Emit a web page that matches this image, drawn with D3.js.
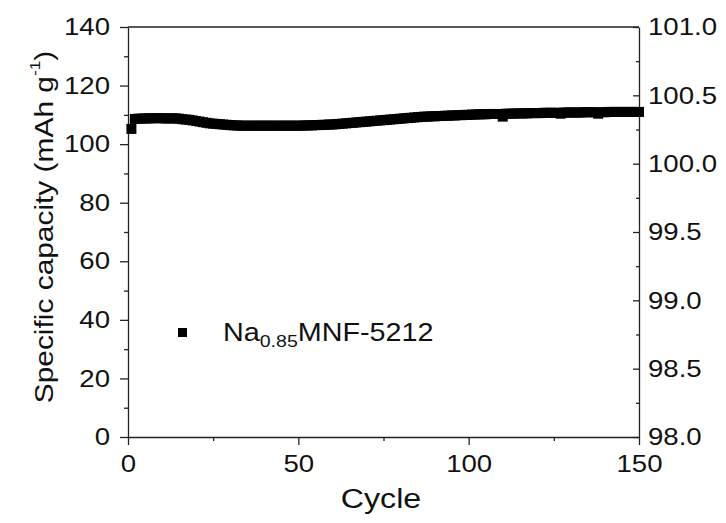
<!DOCTYPE html>
<html>
<head>
<meta charset="utf-8">
<script src="https://cdn.jsdelivr.net/npm/d3@7"></script>
<style>
  html, body { margin: 0; padding: 0; background: #fff; }
  svg { display: block; font-family: "Liberation Sans", Arial, sans-serif; }
</style>
</head>
<body>
<div id="chart"></div>
<script>
// capacity per cycle (mAh g-1), cycles 1..150
const capacity = [
  105.2, 108.6, 108.7, 108.7, 108.8, 108.8, 108.8, 108.9, 108.9, 108.8,
  108.8, 108.8, 108.8, 108.8, 108.7, 108.5, 108.4, 108.3, 108.1, 107.9,
  107.7, 107.5, 107.3, 107.1, 107.0, 106.9, 106.8, 106.7, 106.6, 106.5,
  106.4, 106.4, 106.3, 106.3, 106.3, 106.3, 106.3, 106.3, 106.3, 106.3,
  106.3, 106.3, 106.3, 106.3, 106.3, 106.3, 106.3, 106.3, 106.3, 106.3,
  106.3, 106.4, 106.4, 106.4, 106.5, 106.5, 106.6, 106.6, 106.7, 106.7,
  106.8, 106.9, 107.0, 107.1, 107.2, 107.3, 107.4, 107.5, 107.6, 107.7,
  107.8, 107.9, 108.0, 108.1, 108.2, 108.3, 108.4, 108.5, 108.6, 108.7,
  108.8, 108.9, 109.0, 109.1, 109.2, 109.3, 109.4, 109.4, 109.5, 109.5,
  109.6, 109.6, 109.7, 109.7, 109.8, 109.8, 109.9, 109.9, 110.0, 110.0,
  110.1, 110.1, 110.2, 110.2, 110.2, 110.3, 110.3, 110.3, 110.3, 109.4,
  110.4, 110.4, 110.4, 110.5, 110.5, 110.5, 110.5, 110.6, 110.6, 110.6,
  110.6, 110.7, 110.7, 110.7, 110.7, 110.7, 110.4, 110.8, 110.8, 110.8,
  110.8, 110.8, 110.8, 110.9, 110.9, 110.9, 110.9, 110.4, 110.9, 110.9,
  111.0, 111.0, 111.0, 111.0, 111.0, 111.0, 111.0, 111.0, 111.0, 111.0
];
const xTicks = [0, 50, 100, 150];
const xMinor = [25, 75, 125];
const yTicks = [0, 20, 40, 60, 80, 100, 120, 140];
const yMinor = [10, 30, 50, 70, 90, 110, 130];
const y2Ticks = [98.0, 98.5, 99.0, 99.5, 100.0, 100.5, 101.0];
const y2Minor = [98.25, 98.75, 99.25, 99.75, 100.25, 100.75];
const seriesName = { main: "Na", sub: "0.85", rest: "MNF-5212" };

const width = 726, height = 523;
const margin = { top: 27, right: 87, bottom: 86, left: 128 };
const SX = 1.15; // glyphs in the picture are wider than Arial
const ink = "#222";

const svg = d3.select("#chart").append("svg").attr("width", width).attr("height", height);

const x = d3.scaleLinear().domain([0, 150]).range([margin.left, width - margin.right]);
const y = d3.scaleLinear().domain([0, 140]).range([height - margin.bottom, margin.top]);
const y2 = d3.scaleLinear().domain([98, 101]).range([height - margin.bottom, margin.top]);

function stretch(g) {
  g.selectAll("text").each(function () {
    const t = d3.select(this);
    const x0 = +t.attr("x") || 0;
    t.attr("x", x0 / SX).attr("transform", "scale(" + SX + ",1)");
  });
}

function styleAxis(g, fs) {
  g.selectAll("path,line").attr("stroke", ink).attr("stroke-width", 1.3);
  g.selectAll("text").attr("fill", "#111").attr("font-size", fs).attr("font-family", "Liberation Sans, Arial, sans-serif");
}

// bottom
svg.append("g")
  .attr("transform", "translate(0," + y(0) + ")")
  .call(d3.axisBottom(x).tickValues(xTicks).tickSize(8).tickSizeOuter(0).tickPadding(10).tickFormat(d3.format("d")))
  .call(function (g) { styleAxis(g, 24); stretch(g); });
svg.append("g")
  .attr("transform", "translate(0," + y(0) + ")")
  .call(d3.axisBottom(x).tickValues(xMinor).tickSize(4).tickFormat(""))
  .call(function (g) { g.select(".domain").remove(); styleAxis(g, 0); });

// left
svg.append("g")
  .attr("transform", "translate(" + x(0) + ",0)")
  .call(d3.axisLeft(y).tickValues(yTicks).tickSize(8).tickSizeOuter(0).tickPadding(10).tickFormat(d3.format("d")))
  .call(function (g) { styleAxis(g, 24); stretch(g); });
svg.append("g")
  .attr("transform", "translate(" + x(0) + ",0)")
  .call(d3.axisLeft(y).tickValues(yMinor).tickSize(4).tickFormat(""))
  .call(function (g) { g.select(".domain").remove(); styleAxis(g, 0); });

// right (ticks inward)
svg.append("g")
  .attr("transform", "translate(" + x(150) + ",0)")
  .call(d3.axisRight(y2).tickValues(y2Ticks).tickSize(-6).tickSizeOuter(0).tickPadding(9).tickFormat(d3.format(".1f")))
  .call(function (g) { styleAxis(g, 24); stretch(g); });
svg.append("g")
  .attr("transform", "translate(" + x(150) + ",0)")
  .call(d3.axisRight(y2).tickValues(y2Minor).tickSize(-3).tickFormat(""))
  .call(function (g) { g.select(".domain").remove(); styleAxis(g, 0); });

// top frame line
svg.append("line")
  .attr("x1", x(0)).attr("x2", x(150))
  .attr("y1", y(140)).attr("y2", y(140))
  .attr("stroke", ink).attr("stroke-width", 1.3);

// data squares
const sq = 10;
svg.append("g")
  .selectAll("rect")
  .data(capacity)
  .enter()
  .append("rect")
  .attr("x", function (_, i) { return x(i + 1) - sq / 2; })
  .attr("y", function (d) { return y(d) - sq / 2; })
  .attr("width", sq)
  .attr("height", sq)
  .attr("fill", "#000");

// axis titles
svg.append("text")
  .attr("transform", "translate(" + 381 + ",508) scale(" + SX + ",1)")
  .attr("text-anchor", "middle")
  .attr("font-size", 28)
  .attr("fill", "#111")
  .text("Cycle");

const yt = svg.append("text")
  .attr("transform", "translate(53,227) rotate(-90) scale(" + SX + ",1)")
  .attr("text-anchor", "middle")
  .attr("font-size", 26)
  .attr("fill", "#111");
yt.append("tspan").text("Specific capacity (mAh g");
yt.append("tspan").attr("font-size", 15).attr("dy", -13).text("-1");
yt.append("tspan").attr("dy", 13).text(")");

// legend
const lsq = 9;
svg.append("rect")
  .attr("x", 182.5 - lsq / 2).attr("y", 332.5 - lsq / 2)
  .attr("width", lsq).attr("height", lsq)
  .attr("fill", "#000");
const lt = svg.append("text")
  .attr("transform", "translate(223,341) scale(" + SX + ",1)")
  .attr("font-size", 25)
  .attr("fill", "#111");
lt.append("tspan").text(seriesName.main);
lt.append("tspan").attr("font-size", 17).attr("dy", 6).text(seriesName.sub);
lt.append("tspan").attr("dy", -6).text(seriesName.rest);
</script>
</body>
</html>
